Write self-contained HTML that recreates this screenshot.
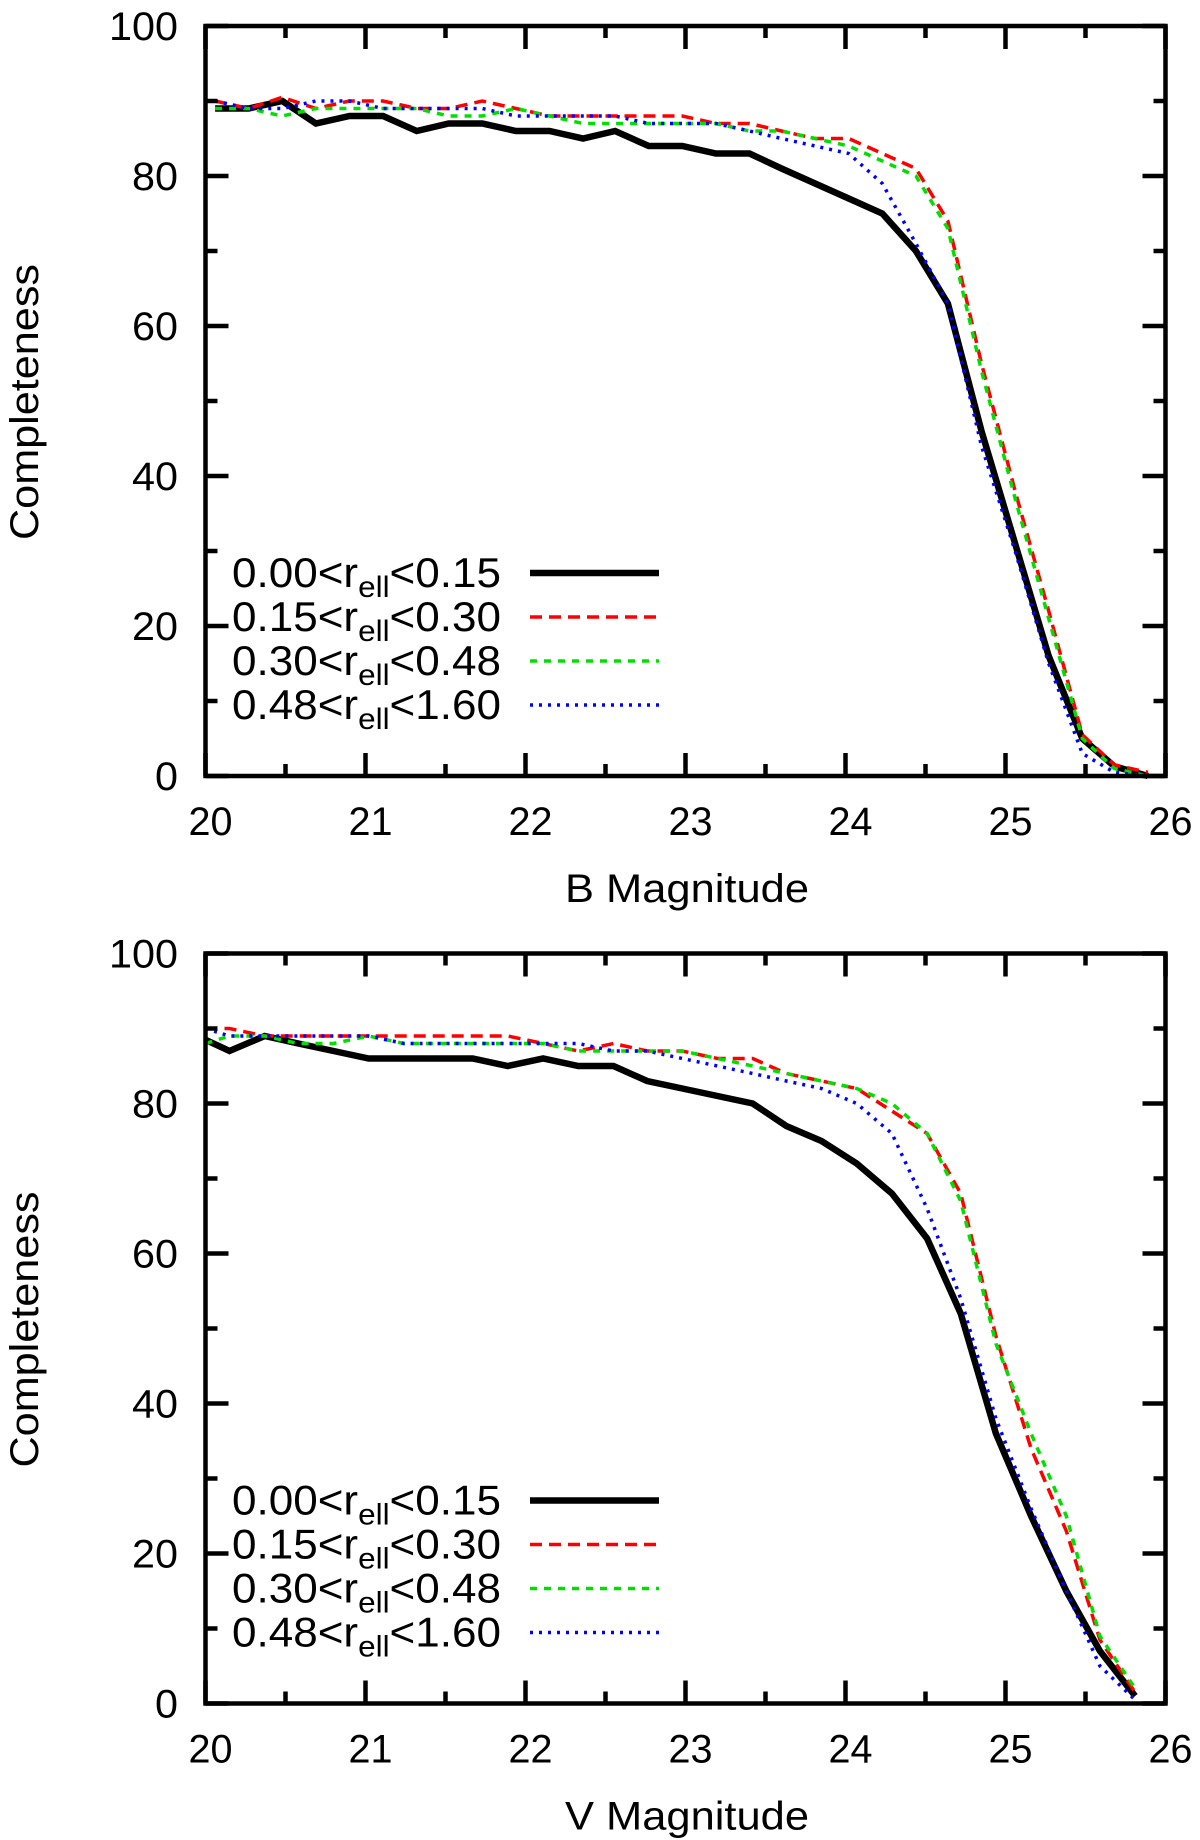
<!DOCTYPE html>
<html><head><meta charset="utf-8"><style>
html,body{margin:0;padding:0;background:#fff;}
svg{display:block;font-family:"Liberation Sans",sans-serif;}
</style></head><body>
<svg id="fig" width="1200" height="1840" viewBox="0 0 1200 1840" xmlns="http://www.w3.org/2000/svg"></svg>
<script>
// ---- data ----
const bMags = [20.06,20.27,20.48,20.69,20.90,21.11,21.32,21.52,21.73,21.94,22.15,22.36,22.56,22.77,22.98,23.19,23.40,23.60,23.81,24.02,24.23,24.44,24.64,24.85,25.06,25.27,25.48,25.68,25.89];
const bBlack = [89,89,90,87,88,88,86,87,87,86,86,85,86,84,84,83,83,81,79,77,75,70,63,46,31,16,5,1.3,0];
const bRed   = [90,89,90.5,89,90,90,89,89,90,89,88,88,88,88,88,87,87,86,85,85,83,81,74,55,38,22,5.5,1.5,0.5];
const bGreen = [89,89,88,89,89,89,89,88,88,89,88,87,87,87,87,87,86,86,85,84,82,80,73,54,37,21,5,1,0];
const bBlue  = [90,89,89,90,90,89,89,89,89,88,88,88,88,87,87,87,86,85,84,83,79,71,63,44,30,15,3,0.5,0];
const vMags = [20.0,20.15,20.37,20.58,20.80,21.02,21.24,21.46,21.67,21.89,22.11,22.33,22.55,22.76,22.98,23.20,23.42,23.63,23.85,24.07,24.29,24.51,24.72,24.94,25.16,25.38,25.59,25.81];
const vBlack = [88.5,87,89,88,87,86,86,86,86,85,86,85,85,83,82,81,80,77,75,72,68,62,52,36,25,15,7,1];
const vRed   = [90,90,89,89,89,89,89,89,89,89,88,87,88,87,87,86,86,84,83,82,79,76,68,49,34,23,8.5,1.5];
const vGreen = [88,89,89,88,88,89,88,88,88,88,88,87,87,87,87,86,85,84,83,82,80,76,67,48,36,25,9,2];
const vBlue  = [90,89,89,89,89,89,88,88,88,88,88,88,87,87,86,85,84,83,82,80,76,66,54,38,26,15,5,0.5];
const xTicks = [20,21,22,23,24,25,26];
const yTicks = [0,20,40,60,80,100];
const legendLabels = [["0.00","0.15"],["0.15","0.30"],["0.30","0.48"],["0.48","1.60"]];

const NS = "http://www.w3.org/2000/svg";
const svg = document.getElementById("fig");
function mk(tag, attrs, parent){
  const e = document.createElementNS(NS, tag);
  for (const k in attrs) e.setAttribute(k, attrs[k]);
  (parent||svg).appendChild(e);
  return e;
}
const styles = [
  {color:"#000", w:6.5, dash:"", key:"black"},
  {color:"#ff0000", w:3.5, dash:"12,7", key:"red"},
  {color:"#00e000", w:3.5, dash:"7,7", key:"green"},
  {color:"#0000ff", w:3.5, dash:"3,6", key:"blue"}
];

function drawPanel(top, xtitle, mags, series, prefix){
  const L = 205.5, R = 1165.5, T = top, B = top + 750;
  const xs = v => L + (v - 20) / 6 * (R - L);
  const ys = v => B - v / 100 * (B - T);
  const g = mk("g", {});
  
  
  series.forEach((vals, i) => {
    const st = styles[i];
    const pts = vals.map((v, j) => xs(mags[j]).toFixed(1) + "," + ys(v).toFixed(1)).join(" ");
    const pl = mk("polyline", {points: pts, fill: "none", stroke: st.color, "stroke-width": st.w, "stroke-dasharray": st.dash, "stroke-linejoin": "miter"}, g);
    
    
  });
  const fr = mk("rect", {x: L, y: T, width: R - L, height: B - T, fill: "none", stroke: "#000", "stroke-width": 4.5}, g);
  
  
  for (let v = 0; v <= 100; v += 10) {
    const len = (v % 20 === 0) ? 23 : 12;
    const y = ys(v);
    const t1 = mk("line", {x1: L, x2: L + len, y1: y, y2: y, stroke: "#000", "stroke-width": 4.5}, g);
    
    
    const t2 = mk("line", {x1: R, x2: R - len, y1: y, y2: y, stroke: "#000", "stroke-width": 4.5}, g);
    
    
  }
  yTicks.forEach(v => {
    const s = String(v);
    const t = mk("text", {x: 178, y: ys(v) + 14, "text-anchor": "end", "font-size": 40, textLength: 23 * s.length, lengthAdjust: "spacingAndGlyphs"}, g);
    t.textContent = s;
    
    
  });
  for (let v = 20; v <= 26.001; v += 0.5) {
    const len = (Math.abs(v - Math.round(v)) < 1e-6) ? 23 : 12;
    const x = xs(v);
    const t1 = mk("line", {x1: x, x2: x, y1: B, y2: B - len, stroke: "#000", "stroke-width": 4.5}, g);
    
    
    const t2 = mk("line", {x1: x, x2: x, y1: T, y2: T + len, stroke: "#000", "stroke-width": 4.5}, g);
    
    
  }
  xTicks.forEach(v => {
    const t = mk("text", {x: xs(v) + 5 - 22, y: B + 59, "font-size": 40, textLength: 44, lengthAdjust: "spacingAndGlyphs"}, g);
    t.textContent = String(v);
    
    
  });
  const xt = mk("text", {x: 687, y: B + 126, "text-anchor": "middle", "font-size": 40, textLength: 244, lengthAdjust: "spacingAndGlyphs"}, g);
  xt.textContent = xtitle;
  
  
  const cy = T + 376;
  const yt = mk("text", {x: 0, y: 0, "text-anchor": "middle", "font-size": 40, textLength: 276, lengthAdjust: "spacingAndGlyphs", transform: "translate(38," + cy + ") rotate(-90)"}, g);
  yt.textContent = "Completeness";
  
  
  legendLabels.forEach((lab, i) => {
    const st = styles[i];
    const cyL = T + 547 + i * 44;
    const t = mk("text", {x: 232, y: cyL + 14, "font-size": 42, textLength: 269, lengthAdjust: "spacingAndGlyphs"}, g);
    const a = mk("tspan", {}, t); a.textContent = lab[0] + "<r";
    const b = mk("tspan", {"font-size": 30, dy: 10}, t); b.textContent = "ell";
    const c = mk("tspan", {dy: -10}, t); c.textContent = "<" + lab[1];
    
    
    const ln = mk("line", {x1: 530, x2: 659, y1: cyL, y2: cyL, stroke: st.color, "stroke-width": st.w, "stroke-dasharray": st.dash}, g);
    
    
  });
}
drawPanel(26, "B Magnitude", bMags, [bBlack, bRed, bGreen, bBlue], "b-band");
drawPanel(953.5, "V Magnitude", vMags, [vBlack, vRed, vGreen, vBlue], "v-band");
</script>
</body></html>
